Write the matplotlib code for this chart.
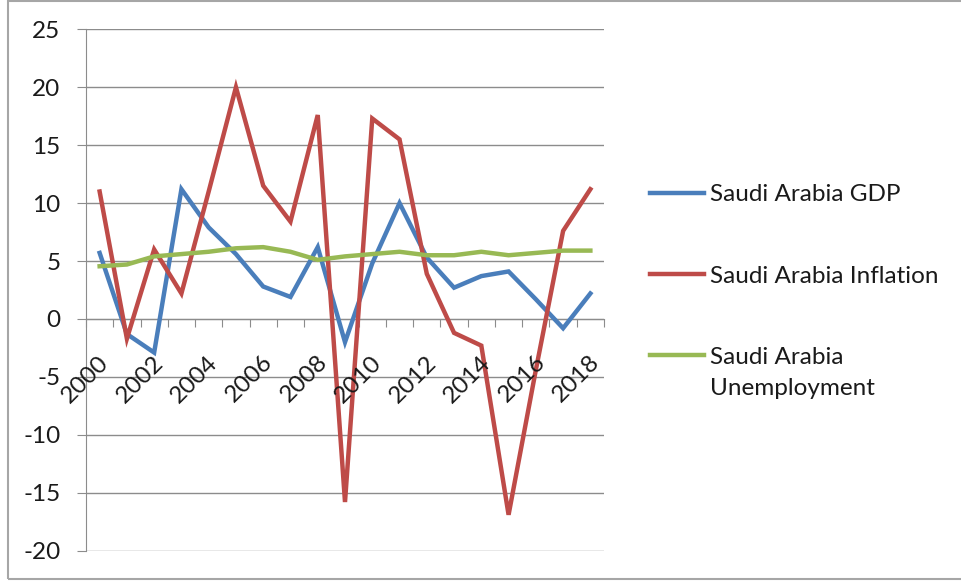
import numpy as np
import matplotlib
matplotlib.use("Agg")
import matplotlib.pyplot as plt
from matplotlib.patches import Rectangle
from matplotlib.lines import Line2D

years = list(range(2000, 2019))
gdp = [5.7, -1.3, -2.9, 11.2, 7.9, 5.6, 2.8, 1.9, 6.2, -2.0,
       4.8, 10.0, 5.3, 2.7, 3.7, 4.1, 1.7, -0.8, 2.2]
inflation = [11.0, -1.7, 6.0, 2.2, 11.0, 20.0, 11.5, 8.4, 17.6, -15.8,
             17.3, 15.5, 3.9, -1.2, -2.3, -16.9, -4.4, 7.6, 11.2]
unemployment = [4.55, 4.7, 5.4, 5.6, 5.8, 6.1, 6.2, 5.8, 5.1, 5.4,
                5.6, 5.8, 5.5, 5.5, 5.8, 5.5, 5.7, 5.9, 5.9]
series_names = ["Saudi Arabia GDP", "Saudi Arabia Inflation",
                "Saudi Arabia\nUnemployment"]
colors = ["#4A7EBB", "#BE4B48", "#98B954"]

plt.rcParams['font.family'] = ['Lato', 'DejaVu Sans']
plt.rcParams['axes.unicode_minus'] = False
W, H = 961, 583
FS = 17.5
fig = plt.figure(figsize=(W / 100, H / 100), dpi=100)

# outer chart frame
fig.patches.append(Rectangle((8 / W, 1 - 579 / H), 1.0, 579 / H - 0.5 / H,
                             transform=fig.transFigure, fill=False,
                             edgecolor="#a6a6a6", lw=1.5, zorder=0))

ax = fig.add_axes([86 / W, 1 - 550.7 / H, (604 - 86) / W, (550.7 - 29.3) / H])
x = np.arange(len(years))
for vals, name, c in zip([gdp, inflation, unemployment], series_names, colors):
    ax.plot(x, vals, color=c, lw=3.2, label=name, solid_joinstyle="miter", zorder=3)

ax.set_xlim(-0.5, len(years) - 0.5)
ax.set_ylim(-20, 25)
ax.set_yticks(np.arange(-20, 26, 5))
ax.yaxis.grid(True, color="#8c8c8c", lw=1.0)
ax.set_axisbelow(True)

for s in ["top", "right"]:
    ax.spines[s].set_visible(False)
ax.spines["left"].set_color("#8c8c8c")
ax.spines["bottom"].set_color("#8c8c8c")
ax.spines["bottom"].set_position(("data", 0))

ax.tick_params(axis="y", length=6.5, color="#8c8c8c", pad=12, labelsize=FS,
               labelcolor="#1a1a1a")
# tick marks between categories
ax.set_xticks(np.arange(-0.5, len(years), 1.0))
ax.set_xticklabels([])
ax.tick_params(axis="x", which="major", length=6, color="#8c8c8c", direction="out")

# year labels on every second category, slanted under the zero line
for xi, yr in zip(x[::2], years[::2]):
    ax.annotate(str(yr), xy=(xi, 0), xycoords="data", xytext=(-1, -23.5),
                textcoords="offset points", rotation=45, rotation_mode="anchor",
                ha="right", va="top", fontsize=FS, color="#1a1a1a",
                annotation_clip=False)

# legend on the right, handle level with the first text line
handle_y = [192.7, 274, 355]
for name, c, hy in zip(series_names, colors, handle_y):
    fig.add_artist(Line2D([650 / W, 704 / W], [1 - hy / H, 1 - hy / H],
                          color=c, lw=3.2, transform=fig.transFigure))
    for k, line in enumerate(name.split("\n")):
        fig.text(710 / W, 1 - (hy + 8.5 + 31.7 * k) / H, line, fontsize=FS,
                 color="#1a1a1a", ha="left", va="baseline")

fig.savefig("out.png", dpi=100, facecolor="white")
